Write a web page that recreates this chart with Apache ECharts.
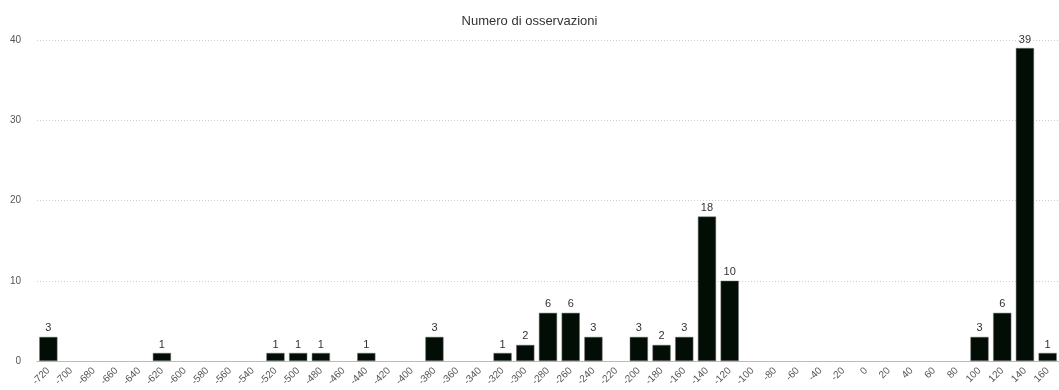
<!DOCTYPE html>
<html><head><meta charset="utf-8">
<script src="https://cdn.jsdelivr.net/npm/echarts@6/dist/echarts.min.js"></script>
<style>html,body{margin:0;padding:0;background:#fff}#c{width:1059px;height:390px}</style>
</head><body><div id="c"></div>
<script>
const categories = ["-720","-700","-680","-660","-640","-620","-600","-580","-560","-540","-520","-500","-480","-460","-440","-420","-400","-380","-360","-340","-320","-300","-280","-260","-240","-220","-200","-180","-160","-140","-120","-100","-80","-60","-40","-20","0","20","40","60","80","100","120","140","160"];
const counts = [3,0,0,0,0,1,0,0,0,0,1,1,1,0,1,0,0,3,0,0,1,2,6,6,3,0,3,2,3,18,10,0,0,0,0,0,0,0,0,0,0,3,6,39,1];
const yTicks = [0,10,20,30,40];
const chart = echarts.init(document.getElementById('c'));
const FONT = 'Helvetica, Arial, sans-serif';
chart.setOption({
  animation:false,
  title:{text:'Numero di osservazioni',left:'center',top:10,textStyle:{fontSize:13,fontWeight:'normal',color:'#333',fontFamily:FONT}},
  grid:{left:37,right:-4,top:40,bottom:29,containLabel:false},
  xAxis:{type:'category',data:categories,
    axisLine:{lineStyle:{color:'#bbb'}},axisTick:{show:false},
    axisLabel:{interval:0,rotate:45,fontSize:10,color:'#555',margin:8,fontFamily:FONT}},
  yAxis:{type:'value',min:yTicks[0],max:yTicks[yTicks.length-1],interval:10,
    axisLine:{show:false},axisTick:{show:false},
    axisLabel:{fontSize:10,color:'#555',margin:16,fontFamily:FONT}},
  series:[{type:'bar',data:counts.map(v=>v===0?'-':v),barCategoryGap:'20%',
    itemStyle:{color:'#020d06',borderColor:'#777',borderWidth:0.5},
    label:{show:true,position:'top',fontSize:11,color:'#333',distance:3,fontFamily:FONT}}]
});
chart.setOption({yAxis:{splitLine:{lineStyle:{color:'#ccc',type:[1,2]}}}});
</script></body></html>
